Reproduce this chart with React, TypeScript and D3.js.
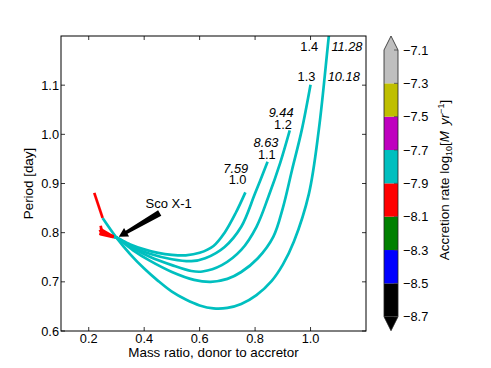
import React from "react";
import * as d3 from "d3";

const W = 491;
const H = 368;
// axes box in pixels
const box = { left: 61, top: 36, right: 366, bottom: 331 };
const cbar = { left: 384, right: 398, top: 50, bottom: 316.7, tip: 14 };

const xTicks = [0.2, 0.4, 0.6, 0.8, 1.0];
const yTicks = [0.6, 0.7, 0.8, 0.9, 1.0, 1.1];
const rateTicks = [-7.1, -7.3, -7.5, -7.7, -7.9, -8.1, -8.3, -8.5, -8.7];
const rateBounds = [-8.5, -8.3, -8.1, -7.9, -7.7, -7.5, -7.3];
const rateColors = ["#000000", "#0000ff", "#008000", "#ff0000", "#00bfbf", "#bf00bf", "#bfbf00", "#bfbfbf"];

// each point: [mass ratio q, period (day), log10 accretion rate]
const track10 = [
  [0.243, 0.814, -8.0], [0.246, 0.806, -8.0], [0.289, 0.792, -7.8], [0.3, 0.79, -7.8],
  [0.35, 0.776, -7.8], [0.4, 0.766, -7.8], [0.45, 0.759, -7.8], [0.5, 0.755, -7.8],
  [0.55, 0.754, -7.8], [0.6, 0.759, -7.8], [0.65, 0.773, -7.8], [0.69, 0.8, -7.8],
  [0.73, 0.84, -7.8], [0.765, 0.882, -7.8],
];
const track11 = [
  [0.24, 0.806, -8.0], [0.245, 0.8, -8.0], [0.29, 0.792, -7.8], [0.3, 0.79, -7.8],
  [0.35, 0.773, -7.8], [0.42, 0.757, -7.8], [0.5, 0.746, -7.8], [0.57, 0.742, -7.8],
  [0.62, 0.748, -7.8], [0.69, 0.771, -7.8], [0.75, 0.812, -7.8], [0.8, 0.88, -7.8],
  [0.845, 0.944, -7.8],
];
const track12 = [
  [0.248, 0.802, -8.0], [0.242, 0.797, -8.0], [0.29, 0.791, -7.8], [0.3, 0.79, -7.8],
  [0.36, 0.768, -7.8], [0.42, 0.751, -7.8], [0.5, 0.734, -7.8], [0.57, 0.722, -7.8],
  [0.61, 0.721, -7.8], [0.68, 0.734, -7.8], [0.75, 0.765, -7.8], [0.805, 0.812, -7.8],
  [0.848, 0.873, -7.8], [0.89, 0.941, -7.8], [0.925, 1.008, -7.8],
];
const track13 = [
  [0.244, 0.809, -8.0], [0.249, 0.799, -8.0], [0.289, 0.792, -7.8], [0.3, 0.79, -7.8],
  [0.36, 0.764, -7.8], [0.42, 0.743, -7.8], [0.5, 0.72, -7.8], [0.58, 0.704, -7.8],
  [0.64, 0.7, -7.8], [0.7, 0.706, -7.8], [0.75, 0.72, -7.8], [0.81, 0.748, -7.8],
  [0.866, 0.792, -7.8], [0.9, 0.85, -7.8], [0.933, 0.927, -7.8], [0.968, 1.008, -7.8],
  [1.0, 1.101, -7.8],
];
const track14 = [
  [0.22, 0.881, -8.0], [0.25, 0.83, -7.8], [0.3, 0.79, -7.8], [0.35, 0.756, -7.8],
  [0.4, 0.727, -7.8], [0.45, 0.702, -7.8], [0.5, 0.68, -7.8], [0.55, 0.664, -7.8],
  [0.6, 0.652, -7.8], [0.65, 0.646, -7.8], [0.7, 0.647, -7.8], [0.75, 0.655, -7.8],
  [0.805, 0.673, -7.8], [0.86, 0.702, -7.8], [0.9, 0.735, -7.8], [0.94, 0.782, -7.8],
  [0.994, 0.879, -7.8], [1.03, 1.01, -7.8], [1.066, 1.2, -7.8], [1.08, 1.27, -7.8],
];
const tracks = [track10, track11, track12, track13, track14];

// donor mass labels and initial periods, with where they were written
const donorMasses = ["1.0", "1.1", "1.2", "1.3", "1.4"];
const massLabelAt = [[0.769, 0.899], [0.8745, 0.949], [0.9327, 1.0106], [1.0175, 1.1087], [1.0273, 1.1697]];
const initialPeriods = ["7.59", "8.63", "9.44", "10.18", "11.28"];
const periodLabelAt = [[0.7753, 0.9217], [0.8844, 0.9734], [0.9389, 1.0343], [1.1775, 1.1087], [1.1873, 1.1697]];

const scoX1 = { label: "Sco X-1", text: [0.405, 0.851], tail: [0.456, 0.84], tip: [0.3084, 0.7917] };

const font = "'Liberation Sans', Arial, Helvetica, sans-serif";

export default function App() {
  const x = d3.scaleLinear().domain([0.1, 1.2]).range([box.left, box.right]);
  const y = d3.scaleLinear().domain([0.6, 1.2]).range([box.bottom, box.top]);
  const cb = d3.scaleLinear().domain([-8.7, -7.1]).range([cbar.bottom, cbar.top]);
  const rateColor = d3.scaleThreshold<number, string>().domain(rateBounds).range(rateColors);
  const smooth = d3.line<number[]>().x((d) => x(d[0])).y((d) => y(d[1])).curve(d3.curveCatmullRom.alpha(0.5));
  const straight = d3.line<number[]>().x((d) => x(d[0])).y((d) => y(d[1]));

  // split each track into runs of one colour (segment colour = colour of its first point)
  const runs: { color: string; pts: number[][] }[] = [];
  tracks.forEach((t) => {
    let cur: { color: string; pts: number[][] } | null = null;
    for (let i = 0; i < t.length - 1; i++) {
      const c = rateColor(t[i][2]);
      if (!cur || cur.color !== c) {
        cur = { color: c, pts: [t[i]] };
        runs.push(cur);
      }
      cur.pts.push(t[i + 1]);
    }
  });
  runs.sort((a, b) => (a.color === "#ff0000" ? 1 : 0) - (b.color === "#ff0000" ? 1 : 0));

  // arrow polygon
  const tx = x(scoX1.tail[0]), ty = y(scoX1.tail[1]);
  const hx = x(scoX1.tip[0]), hy = y(scoX1.tip[1]);
  const len = Math.hypot(hx - tx, hy - ty);
  const ux = (hx - tx) / len, uy = (hy - ty) / len;
  const nx = -uy, ny = ux;
  const headLen = 9;
  const bx = hx - ux * headLen, by = hy - uy * headLen;
  const arrow = [
    [tx + nx * 3.2, ty + ny * 3.2],
    [bx + nx * 1.8, by + ny * 1.8],
    [bx + nx * 5, by + ny * 5],
    [hx, hy],
    [bx - nx * 5, by - ny * 5],
    [bx - nx * 1.8, by - ny * 1.8],
    [tx - nx * 3.2, ty - ny * 3.2],
  ];

  const cbColors = rateColors.map((c, i) => ({
    c,
    y0: cb(i === 0 ? -8.7 : rateBounds[i - 1]),
    y1: cb(i === rateColors.length - 1 ? -7.1 : rateBounds[i]),
  }));
  const cmid = (cbar.left + cbar.right) / 2;
  const outline = `M${cbar.left},${cbar.top} L${cmid},${cbar.top - cbar.tip} L${cbar.right},${cbar.top} L${cbar.right},${cbar.bottom} L${cmid},${cbar.bottom + cbar.tip} L${cbar.left},${cbar.bottom} Z`;

  return (
    <div style={{ position: "absolute", left: 0, top: 0 }}>
      <svg width={W} height={H} style={{ display: "block", background: "#fff" }} fontFamily={font}>
        <defs>
          <clipPath id="plotArea">
            <rect x={box.left} y={box.top} width={box.right - box.left} height={box.bottom - box.top} />
          </clipPath>
        </defs>

        <g clipPath="url(#plotArea)">
          {runs.map((r, i) => (
            <path
              key={i}
              d={(r.pts.length > 3 ? smooth(r.pts) : straight(r.pts)) || ""}
              fill="none"
              stroke={r.color}
              strokeWidth={2.7}
              strokeLinejoin="round"
            />
          ))}
        </g>

        <polygon points={arrow.map((p) => p.join(",")).join(" ")} fill="#000" />
        <text x={x(scoX1.text[0])} y={y(scoX1.text[1])} fontSize={13}>{scoX1.label}</text>

        {donorMasses.map((m, i) => (
          <text key={m} x={x(massLabelAt[i][0])} y={y(massLabelAt[i][1])} fontSize={12.8} textAnchor="end">{m}</text>
        ))}
        {initialPeriods.map((p, i) => (
          <text key={p} x={x(periodLabelAt[i][0])} y={y(periodLabelAt[i][1])} fontSize={12.8} textAnchor="end" fontStyle="italic">{p}</text>
        ))}

        {/* axes frame and ticks */}
        <rect x={box.left} y={box.top} width={box.right - box.left} height={box.bottom - box.top} fill="none" stroke="#000" strokeWidth={1} />
        {xTicks.map((t) => (
          <g key={t}>
            <line x1={x(t)} x2={x(t)} y1={box.bottom} y2={box.bottom - 4} stroke="#000" strokeWidth={0.8} />
            <line x1={x(t)} x2={x(t)} y1={box.top} y2={box.top + 4} stroke="#000" strokeWidth={0.8} />
            <text x={x(t)} y={box.bottom + 11.5} fontSize={12.8} textAnchor="middle">{t.toFixed(1)}</text>
          </g>
        ))}
        {yTicks.map((t) => (
          <g key={t}>
            <line x1={box.left} x2={box.left + 4} y1={y(t)} y2={y(t)} stroke="#000" strokeWidth={0.8} />
            <line x1={box.right} x2={box.right - 4} y1={y(t)} y2={y(t)} stroke="#000" strokeWidth={0.8} />
            <text x={box.left - 2} y={y(t) + 4.5} fontSize={12.8} textAnchor="end">{t.toFixed(1)}</text>
          </g>
        ))}
        <text x={(box.left + box.right) / 2} y={357.3} fontSize={13.4} textAnchor="middle">Mass ratio, donor to accretor</text>
        <text transform={`translate(33,${(box.top + box.bottom) / 2}) rotate(-90)`} fontSize={13.4} textAnchor="middle">Period [day]</text>

        {/* colour bar */}
        <path d={`M${cbar.left},${cbar.top} L${cmid},${cbar.top - cbar.tip} L${cbar.right},${cbar.top} Z`} fill={rateColors[rateColors.length - 1]} />
        <path d={`M${cbar.left},${cbar.bottom} L${cmid},${cbar.bottom + cbar.tip} L${cbar.right},${cbar.bottom} Z`} fill={rateColors[0]} />
        {cbColors.map((s) => (
          <rect key={s.c} x={cbar.left} y={s.y1} width={cbar.right - cbar.left} height={s.y0 - s.y1} fill={s.c} />
        ))}
        <path d={outline} fill="none" stroke="#222" strokeWidth={0.8} />
        {rateTicks.map((t) => (
          <g key={t}>
            <line x1={cbar.right} x2={cbar.right - 4} y1={cb(t)} y2={cb(t)} stroke="#444" strokeWidth={0.8} />
            <text x={cbar.right + 5} y={cb(t) + 4.5} fontSize={12.8}>{"\u2212" + Math.abs(t).toFixed(1)}</text>
          </g>
        ))}
        <text transform={`translate(449,180) rotate(-90)`} fontSize={13.4} textAnchor="middle">
          Accretion rate log
          <tspan fontSize={9} dy={3}>10</tspan>
          <tspan dy={-3}>[</tspan>
          <tspan fontStyle="italic">M</tspan>
          <tspan fontStyle="italic" dx={6}>yr</tspan>
          <tspan fontSize={9} dy={-5}>{"\u22121"}</tspan>
          <tspan dy={5}>]</tspan>
        </text>
      </svg>
    </div>
  );
}
